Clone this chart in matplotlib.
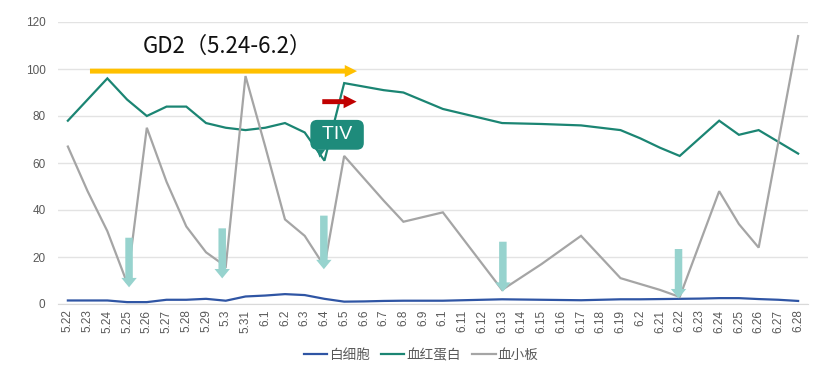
import numpy as np
import matplotlib
matplotlib.use("Agg")
import matplotlib.pyplot as plt
from matplotlib.patches import Polygon

plt.rcParams['font.family'] = ['Liberation Sans', 'Noto Sans CJK SC', 'DejaVu Sans']

dates = ['5.22', '5.23', '5.24', '5.25', '5.26', '5.27', '5.28', '5.29', '5.3', '5.31',
         '6.1', '6.2', '6.3', '6.4', '6.5', '6.6', '6.7', '6.8', '6.9', '6.1',
         '6.11', '6.12', '6.13', '6.14', '6.15', '6.16', '6.17', '6.18', '6.19', '6.2',
         '6.21', '6.22', '6.23', '6.24', '6.25', '6.26', '6.27', '6.28']

wbc = [1.5, 1.5, 1.5, 0.8, 0.8, 1.8, 1.8, 2.2, 1.4, 3.2,
       3.6, 4.2, 3.8, 2.2, 1.0, 1.1, 1.3, 1.4, 1.4, 1.4,
       1.6, 1.8, 2.0, 1.9, 1.8, 1.7, 1.6, 1.8, 2.0, 2.0,
       2.1, 2.2, 2.3, 2.5, 2.5, 2.1, 1.8, 1.3]

hgb = [78, 87, 96, 87, 80, 84, 84, 77, 75, 74,
       75, 77, 73, 61, 94, 92.5, 91, 90, 86.5, 83,
       81, 79, 77, 76.8, 76.6, 76.3, 76, 75, 74, 70.5,
       66.5, 63, 70.5, 78, 72, 74, 69, 64]

plt_vals = [67, 48, 31, 9, 75, 52, 33, 22, 16, 97,
            67, 36, 29, 16, 63, 53.5, 44, 35, 37, 39,
            28, 17, 6, 11.5, 17, 23, 29, 20, 11, 8.5,
            6, 3, 25.5, 48, 34, 24, 69, 114]

series_names = ['白细胞', '血红蛋白', '血小板']
colors = ['#2F55A4', '#1B8573', '#A5A5A5']

# annotation anchors (category index, value)
down_arrows = [(3.1, 28.2, 7.1), (7.82, 32.2, 10.9), (12.97, 37.6, 14.8),
               (22.04, 26.5, 5.2), (30.94, 23.4, 2.4)]

fig = plt.figure(figsize=(8.32, 3.73), dpi=100)
ax = fig.add_axes([58/832, 1-304/373, 750/832, 282/373])

x = np.arange(len(dates))
for vals, name, c in zip([wbc, hgb, plt_vals], series_names, colors):
    ax.plot(x, vals, color=c, lw=1.6, label=name, solid_joinstyle='miter', zorder=3)

ax.set_xlim(-0.5, len(dates) - 0.5)
ax.set_ylim(0, 120)
ax.set_yticks(np.arange(0, 121, 20))
ax.set_xticks(x)
ax.set_xticklabels(dates, rotation=90, fontsize=8.5, color='#595959')
ax.tick_params(axis='y', length=0, pad=9, labelsize=8.5, labelcolor='#595959')
ax.tick_params(axis='x', length=0, pad=4)
ax.grid(axis='y', color='#E3E3E3', lw=1)
ax.set_axisbelow(True)
for s in ['left', 'right', 'top']:
    ax.spines[s].set_visible(False)
ax.spines['bottom'].set_color('#D9D9D9')

# GD2 period arrow and label
ax.arrow(1.12, 99.1, 14.65 - 1.12, 0, width=2.1, head_width=5.2, head_length=0.62,
         length_includes_head=True, fc='#FFC000', ec='none', zorder=5)
ax.text(8.1, 109.6, 'GD2（5.24-6.2）', ha='center', va='center', fontsize=16,
        color='#111111', family=['Noto Sans CJK SC', 'DejaVu Sans'], zorder=6)

# red arrow
ax.arrow(12.89, 86.1, 14.63 - 12.89, 0, width=2.1, head_width=5.6, head_length=0.66,
         length_includes_head=True, fc='#C00000', ec='none', zorder=5)

# TIV label box
ax.text(13.64, 72.0, ' TIV ', ha='center', va='center', fontsize=14, color='white', zorder=7,
        bbox=dict(boxstyle='round,pad=0.33,rounding_size=0.35', fc='#1E8B7B', ec='none'))
tail = Polygon([(12.6, 65.8), (13.05, 65.8), (12.75, 62.3)], closed=True,
               fc='#1E8B7B', ec='none', zorder=7)
ax.add_patch(tail)

# down arrows
for xa, ytop, ytip in down_arrows:
    ax.arrow(xa, ytop, 0, ytip - ytop, width=0.38, head_width=0.78, head_length=4.0,
             length_includes_head=True, fc='#97D3CE', ec='none', zorder=6)

fig.legend(loc='center', bbox_to_anchor=(421/832, 1-355/373), ncol=3, frameon=False,
           handlelength=1.7, handletextpad=0.15, columnspacing=0.85,
           labelcolor='#595959', prop={'family': ['Noto Sans CJK SC', 'DejaVu Sans'], 'size': 9.8})

fig.savefig('out.png', dpi=100, facecolor='white')
